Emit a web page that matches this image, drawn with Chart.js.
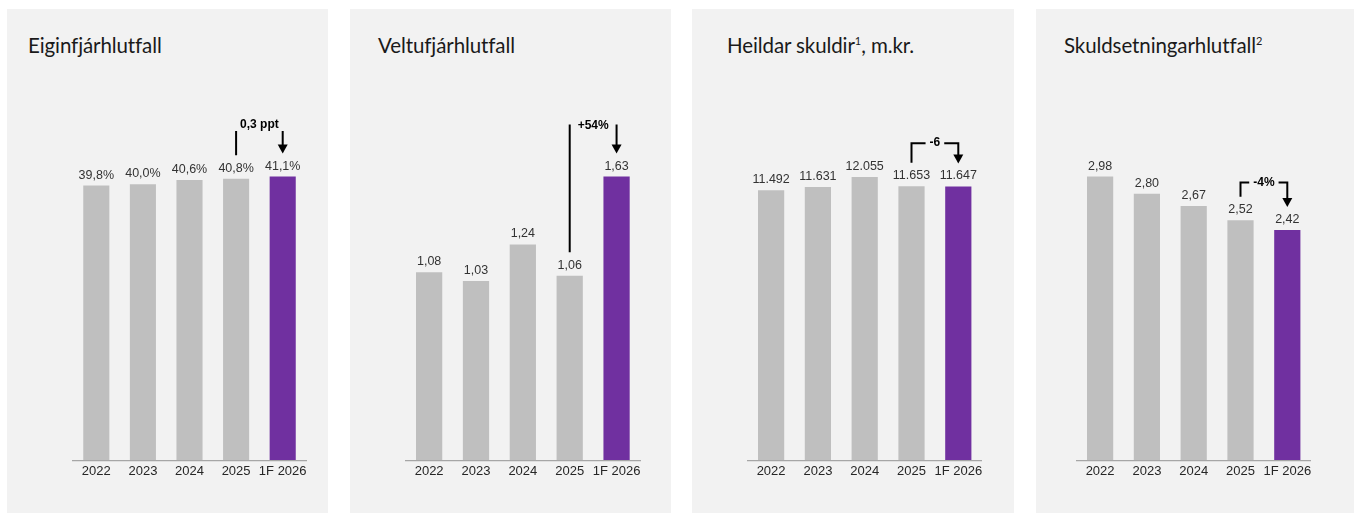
<!DOCTYPE html>
<html lang="is">
<head>
<meta charset="utf-8">
<script src="https://cdn.jsdelivr.net/npm/chart.js@4.4.1/dist/chart.umd.min.js"></script>
<style>
  html, body { margin: 0; padding: 0; background: #ffffff; }
  body { width: 1354px; height: 513px; position: relative; overflow: hidden; }
  .panel { position: absolute; top: 9px; height: 504px; background: #f2f2f2; }
  .panel canvas { position: absolute; left: 0; top: 0; }
  .title {
    position: absolute; top: 25.5px; margin: 0;
    font-family: Lato, sans-serif; font-size: 20.5px; font-weight: 400;
    line-height: 1; color: #1a1a1a; letter-spacing: -0.1px; white-space: nowrap;
  }
  .title sup { font-size: 11px; vertical-align: 8px; letter-spacing: 0; }
</style>
</head>
<body>

<div class="panel" id="p1" style="left:7px;width:321px">
  <div class="title" style="left:21px">Eiginfjárhlutfall</div>
  <canvas id="c1"></canvas>
</div>
<div class="panel" id="p2" style="left:350px;width:321px">
  <div class="title" style="left:28px">Veltufjárhlutfall</div>
  <canvas id="c2"></canvas>
</div>
<div class="panel" id="p3" style="left:692px;width:322px">
  <div class="title" style="left:35px">Heildar skuldir<sup>1</sup>, m.kr.</div>
  <canvas id="c3"></canvas>
</div>
<div class="panel" id="p4" style="left:1036px;width:318px">
  <div class="title" style="left:28px">Skuldsetningarhlutfall<sup>2</sup></div>
  <canvas id="c4"></canvas>
</div>

<script>
// Gögn
const years = ['2022', '2023', '2024', '2025', '1F 2026'];
const equityRatio = [39.8, 40.0, 40.6, 40.8, 41.1];
const currentRatio = [1.08, 1.03, 1.24, 1.06, 1.63];
const totalDebt = [11492, 11631, 12055, 11653, 11647];
const leverageRatio = [2.98, 2.80, 2.67, 2.52, 2.42];
const changeLabels = ['0,3 ppt', '+54%', '-6', '-4%'];

const GREY = '#bfbfbf';
const PURPLE = '#7030a0';
const barColors = years.map((y, i) => i === years.length - 1 ? PURPLE : GREY);

// Sniðmát fyrir tölur (íslenskt: komma og punktur)
const fmtPct = (v) => v.toFixed(1).replace('.', ',') + '%';
const fmtDec = (v) => v.toFixed(2).replace('.', ',');
const fmtThous = (v) => String(v).replace(/\B(?=(\d{3})+(?!\d))/g, '.');

// formatters geymdir utan options (Chart.js kallar annars á föll sem scriptable)
const formatters = {};
const LABEL_GAP = 10.5;

// Gildi ofan á súlum
const valueLabels = {
    id: 'valueLabels',
    afterDatasetsDraw(chart) {
        const ctx = chart.ctx;
        const fmt = formatters[chart.canvas.id];
        const meta = chart.getDatasetMeta(0);
        ctx.save();
        ctx.font = '12.5px "Liberation Sans", Arial, sans-serif';
        ctx.fillStyle = '#333333';
        ctx.textAlign = 'center';
        ctx.textBaseline = 'middle';
        meta.data.forEach((bar, i) => {
            ctx.fillText(fmt(chart.data.datasets[0].data[i]), bar.x, bar.y - LABEL_GAP);
        });
        ctx.restore();
    }
};

// Breytingarör milli 2025 og 1F 2026
const changeNote = {
    id: 'changeNote',
    afterDatasetsDraw(chart) {
        const o = chart.options.plugins.changeNote;
        const ctx = chart.ctx;
        const meta = chart.getDatasetMeta(0);
        const b3 = meta.data[3], b4 = meta.data[4];
        const x3 = b3.x, x4 = b4.x;
        const ly3 = b3.y - LABEL_GAP, ly4 = b4.y - LABEL_GAP;
        const top = Math.min(ly3, ly4) - o.rise;
        const tip = ly4 - 12.5;
        ctx.save();
        ctx.strokeStyle = '#000';
        ctx.fillStyle = '#000';
        ctx.lineWidth = 2;
        ctx.font = 'bold 12px "Liberation Sans", Arial, sans-serif';
        ctx.textAlign = 'center';
        ctx.textBaseline = 'middle';
        const mid = (x3 + x4) / 2;
        ctx.fillText(o.text, mid, top + o.textDy);
        const tw = ctx.measureText(o.text).width;

        ctx.beginPath();
        ctx.moveTo(x3, ly3 - 13);
        ctx.lineTo(x3, top);
        if (o.bracket) {
            ctx.lineTo(mid - tw / 2 - 4, top);
            ctx.moveTo(mid + tw / 2 + 4, top);
            ctx.lineTo(x4, top);
        } else {
            ctx.moveTo(x4, top);
        }
        ctx.lineTo(x4, tip - 8);
        ctx.stroke();

        ctx.beginPath();
        ctx.moveTo(x4 - 5, tip - 9);
        ctx.lineTo(x4 + 5, tip - 9);
        ctx.lineTo(x4, tip);
        ctx.closePath();
        ctx.fill();
        ctx.restore();
    }
};

function makeChart(id, values, fmt, yMax, pad, note) {
    const canvas = document.getElementById(id);
    const panel = canvas.parentElement;
    canvas.width = panel.clientWidth;
    canvas.height = panel.clientHeight;
    formatters[id] = fmt;
    return new Chart(canvas, {
        type: 'bar',
        data: {
            labels: years,
            datasets: [{
                data: values,
                backgroundColor: barColors,
                borderWidth: 0,
                categoryPercentage: 1,
                barPercentage: 0.56,
            }],
        },
        options: {
            responsive: false,
            animation: false,
            devicePixelRatio: 1,
            layout: { padding: { left: pad[0], right: pad[1], top: 101.5, bottom: 29.3 } },
            plugins: {
                legend: { display: false },
                tooltip: { enabled: false },
                changeNote: note,
            },
            scales: {
                x: {
                    grid: { display: false, drawTicks: false },
                    border: { display: true, color: '#a6a6a6', width: 1.2 },
                    ticks: {
                        padding: 4,
                        color: '#262626',
                        font: { family: '"Liberation Sans", Arial, sans-serif', size: 13 },
                        maxRotation: 0,
                        autoSkip: false,
                    },
                },
                y: { display: false, min: 0, max: yMax },
            },
        },
        plugins: [valueLabels, changeNote],
    });
}

makeChart('c1', equityRatio, fmtPct, 50.68, [66, 22],
    { text: changeLabels[0], rise: 35, textDy: -6.4, bracket: false });
makeChart('c2', currentRatio, fmtDec, 2.01, [55.7, 31],
    { text: changeLabels[1], rise: 41.7, textDy: 1, bracket: false });
makeChart('c3', totalDebt, fmtThous, 14883, [55.7, 32.3],
    { text: changeLabels[2], rise: 32.7, textDy: 0, bracket: true });
makeChart('c4', leverageRatio, fmtDec, 3.675, [40.7, 43.3],
    { text: changeLabels[3], rise: 27.3, textDy: 0.6, bracket: true });
</script>
</body>
</html>
